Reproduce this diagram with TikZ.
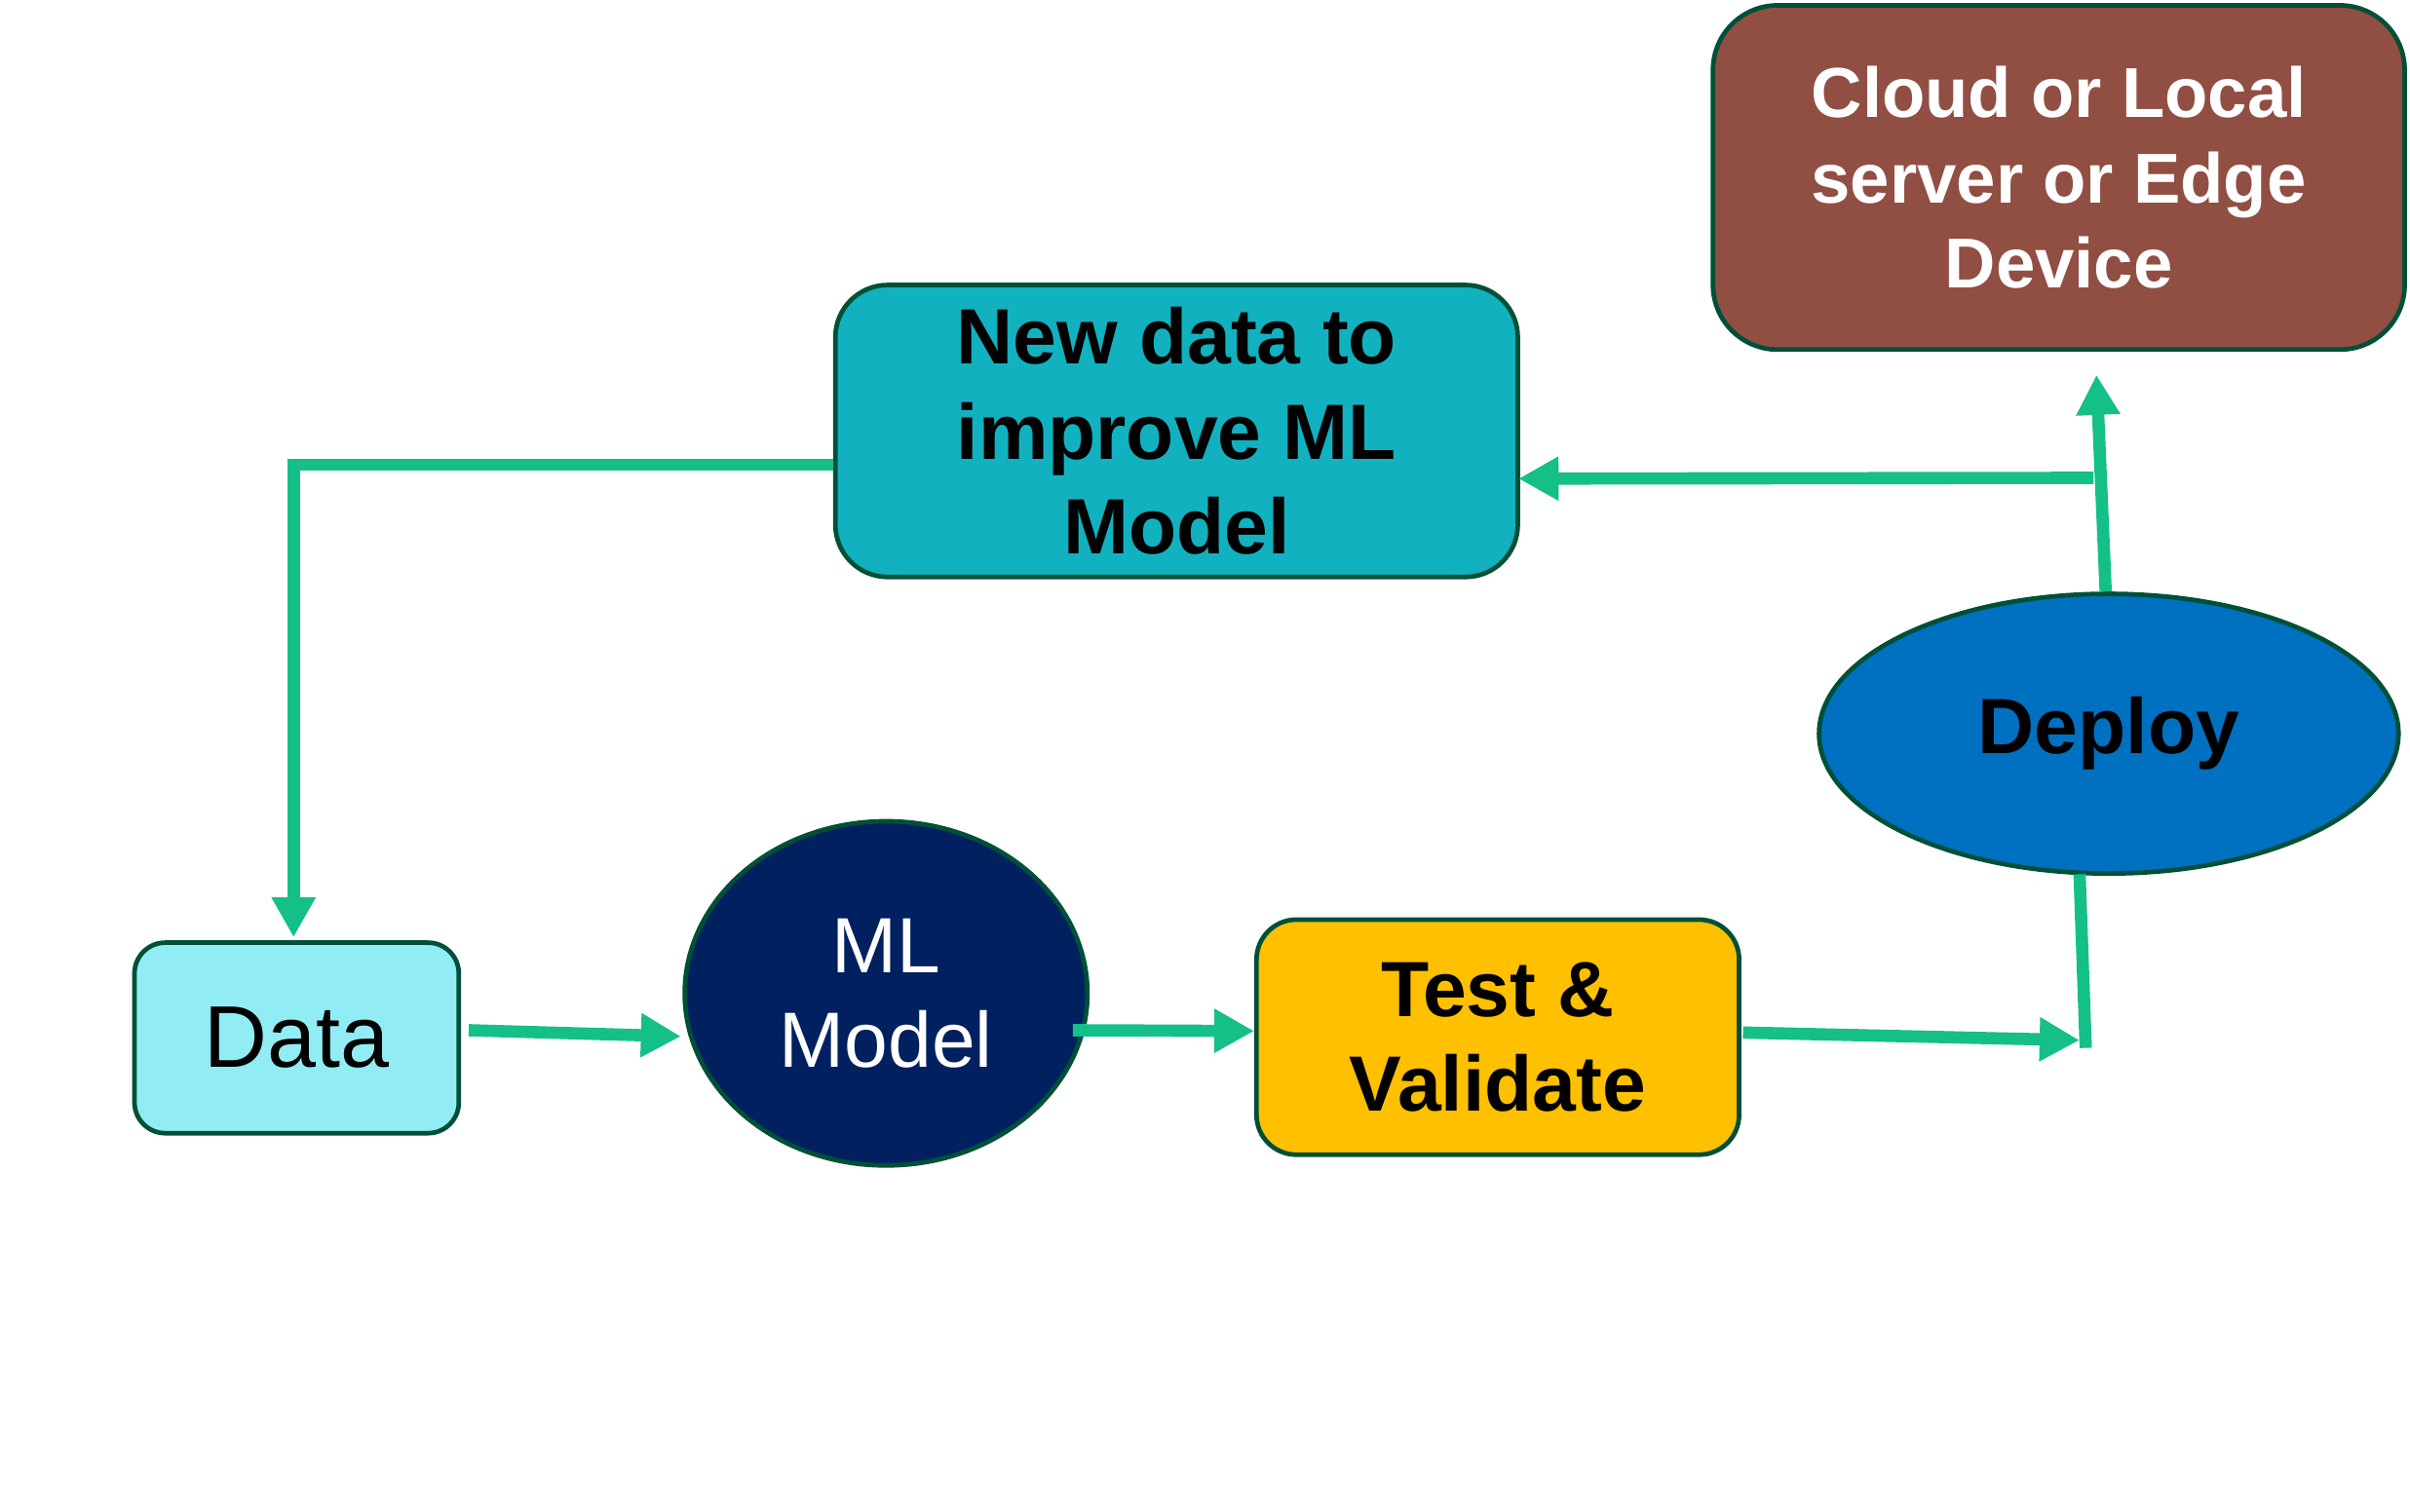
\documentclass[tikz,border=0pt]{standalone}
\usepackage{fontspec}
\setmainfont{Liberation Sans}
\usetikzlibrary{arrows.meta,shapes.geometric,calc}
\definecolor{arrgreen}{RGB}{21,191,136}
\definecolor{bordc}{RGB}{0,80,56}
\definecolor{datafill}{RGB}{145,236,243}
\definecolor{ndfill}{RGB}{18,177,191}
\definecolor{mlfill}{RGB}{0,32,96}
\definecolor{tvfill}{RGB}{255,192,0}
\definecolor{depfill}{RGB}{0,112,192}
\definecolor{cldfill}{RGB}{145,78,67}
\begin{document}
\begin{tikzpicture}[x=1pt,y=-1pt,
  rbox/.style={draw=bordc, line width=3pt, inner sep=0pt, align=center},
  ell/.style={draw=bordc, line width=3pt, ellipse, inner sep=0pt, align=center},
  conn/.style={draw=arrgreen, line width=8pt, line join=miter},
  arr/.style={conn, -{Triangle[length=26pt,width=27pt]}},
  bigtxt/.style={font=\fontsize{51}{62}\selectfont\bfseries}
]
\useasboundingbox (0,0) rectangle (1568,984);

% nodes
\node[rbox, fill=datafill, rounded corners=20pt, minimum width=211pt, minimum height=124pt,
      font=\fontsize{57}{68}\selectfont] (data) at (193,675.5) {Data};
\node[ell, fill=mlfill, text=white, minimum width=262pt, minimum height=224pt,
      font=\fontsize{51}{62}\selectfont] (ml) at (576.5,646.5) {ML\\Model};
\node[rbox, fill=tvfill, rounded corners=26pt, minimum width=314pt, minimum height=153pt,
      bigtxt] (tv) at (974.5,675) {Test \&\\Validate};
\node[ell, fill=depfill, minimum width=377pt, minimum height=182pt,
      bigtxt] (dep) at (1372,477.5) {Deploy};
\node[rbox, fill=ndfill, rounded corners=34pt, minimum width=444pt, minimum height=190pt,
      bigtxt] (nd) at (765.5,280.5) {New data to\\improve ML\\Model};
\node[rbox, fill=cldfill, text=white, rounded corners=42pt, minimum width=450pt, minimum height=224pt,
      font=\fontsize{46}{55.5}\selectfont\bfseries] (cld) at (1339.5,115.5) {Cloud or Local\\server or Edge\\Device};

% helper coordinates for free ends
\coordinate (vb) at (1357,682);
\coordinate (ctip) at (1364,244);
\coordinate (hj) at (1362,311);
\coordinate (vtip) at (1353,677);

% connectors
\draw[arr] ([shift={(5,-5)}]data.east) -- ([shift={(-1,28)}]ml.west);
\draw[arr] ([shift={(-11,24)}]ml.east) -- ([shift={(0,-4)}]tv.west);
\draw[arr] ([shift={(1,-3)}]tv.east) -- (vtip);
\draw[conn] (vb) -- ([shift={(-19,-1)}]dep.south);
\draw[arr] ([shift={(-2,0)}]dep.north) -- (ctip);
\draw[arr] (hj) -- ([shift={(-1,31)}]nd.east);
\draw[arr] ([shift={(0,22)}]nd.west) -| ([shift={(-2,-2)}]data.north);
\end{tikzpicture}
\end{document}
